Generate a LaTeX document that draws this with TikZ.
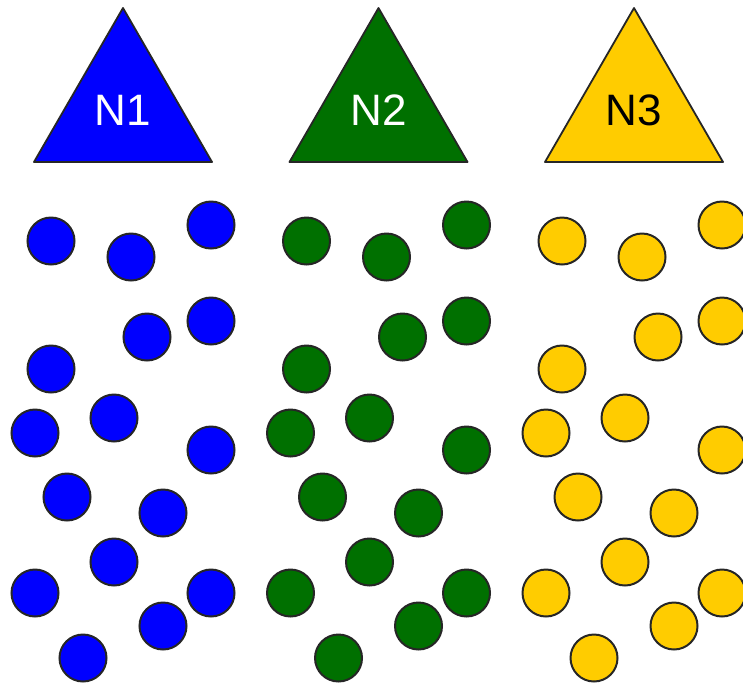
\documentclass[tikz,border=0pt]{standalone}
\usepackage{fontspec}
\setmainfont{Liberation Sans}
\definecolor{nblue}{RGB}{0,0,255}
\definecolor{ngreen}{RGB}{0,112,0}
\definecolor{nyellow}{RGB}{255,204,0}
\begin{document}
\begin{tikzpicture}[x=1pt,y=-1pt,
  dot/.style={circle,draw=black!85,line width=2pt,minimum size=47pt,inner sep=0pt},
  tri/.style={draw=black!85,line width=1.8pt,line join=round},
  lbl/.style={font=\fontsize{44}{44}\selectfont,inner sep=0pt}]
\useasboundingbox (0,0) rectangle (743,683);
\foreach \g/\col/\tc [count=\k from 0] in {N1/nblue/white,N2/ngreen/white,N3/nyellow/black}{
  \pgfmathsetmacro{\dx}{255.5*\k}
  \begin{scope}[xshift=\dx pt]
    \draw[tri,fill=\col] (123,8) coordinate (\g-top) -- (212,162) coordinate (\g-r) -- (34,162) coordinate (\g-l) -- cycle;
    \node[lbl,text=\tc] (\g-label) at (123,110) {\g};
    \foreach \x/\y [count=\i] in {51/241,131/257,211/225,147/337,211/321,51/369,35/433,114/418,211/450,67/497,163/513,114/562,35/593,211/593,163/626,83/658}{
      \node[dot,fill=\col] (\g-c\i) at (\x,\y) {};
    }
  \end{scope}
}
\end{tikzpicture}
\end{document}
